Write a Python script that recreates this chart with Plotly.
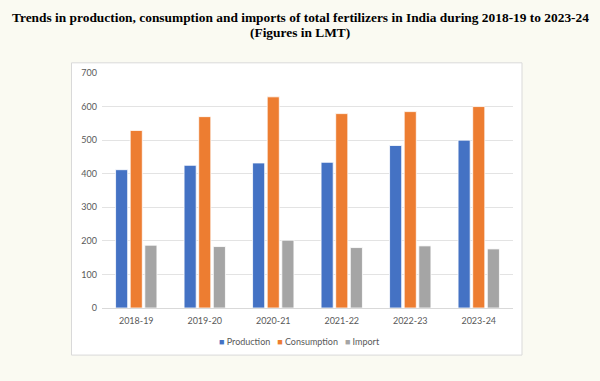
import plotly.graph_objects as go

years = ["2018-19", "2019-20", "2020-21", "2021-22", "2022-23", "2023-24"]
production = [412, 425, 432, 434, 484, 500]
consumption = [529, 570, 629, 579, 585, 600]
imports = [187, 183, 202, 180, 185, 176]
series_names = ["Production", "Consumption", "Import"]
series_colors = ["#4472C4", "#ED7D31", "#A5A5A5"]
title_lines = ["Trends in production, consumption and imports of total fertilizers in India during 2018-19 to 2023-24",
               "(Figures in LMT)"]

W, H = 600, 381
L, R, T, B = 102, 513, 72.7, 308.3

fig = go.Figure()
for name, vals, col in zip(series_names, [production, consumption, imports], series_colors):
    fig.add_trace(go.Bar(x=years, y=vals, name=name, marker_color=col,
                         marker_line_color="white", marker_line_width=0.8,
                         showlegend=False))

fig.add_shape(type="rect", xref="paper", yref="paper",
              x0=(71.5 - L) / (R - L), x1=(522 - L) / (R - L),
              y0=(B - 355.5) / (B - T), y1=(B - 62.5) / (B - T),
              fillcolor="white", line=dict(color="#d9d9d9", width=1), layer="below")

legend_text = "&nbsp;&nbsp;&nbsp;".join(
    f'<span style="color:{c}">■</span> {n}' for n, c in zip(series_names, series_colors))
fig.add_annotation(xref="paper", yref="paper", x=(299.5 - L) / (R - L),
                   y=(B - 341.7) / (B - T), xanchor="center", yanchor="middle",
                   text=legend_text, showarrow=False,
                   font=dict(family="Lato", size=9, color="#595959"))

for line, ypix in zip(title_lines, [17.5, 32]):
    fig.add_annotation(xref="paper", yref="paper", x=(300 - L) / (R - L),
                       y=(B - ypix) / (B - T), xanchor="center", yanchor="middle",
                       text=f"<b>{line}</b>", showarrow=False,
                       font=dict(family="Liberation Serif", size=13.4, color="#000000"))

fig.update_layout(
    width=W, height=H,
    margin=dict(l=L, r=W - R, t=T, b=H - B),
    paper_bgcolor="#fafaf2", plot_bgcolor="rgba(0,0,0,0)",
    barmode="group", bargap=0.36, bargroupgap=0.17,
    font=dict(family="Lato", size=9, color="#595959"),
    xaxis=dict(showgrid=False, showline=True, linecolor="#d9d9d9", linewidth=1,
               ticks="", tickfont=dict(size=9, color="#595959"), ticklabelstandoff=4),
    yaxis=dict(range=[0, 700], dtick=100, showgrid=True, gridcolor="#e3e3e3",
               gridwidth=1, zeroline=False, showline=False, ticks="",
               tickfont=dict(size=9, color="#595959"), ticklabelstandoff=4),
    showlegend=False,
)

fig.write_html("out.html", config={"displayModeBar": False},
               post_script="document.body.style.margin='0';")
